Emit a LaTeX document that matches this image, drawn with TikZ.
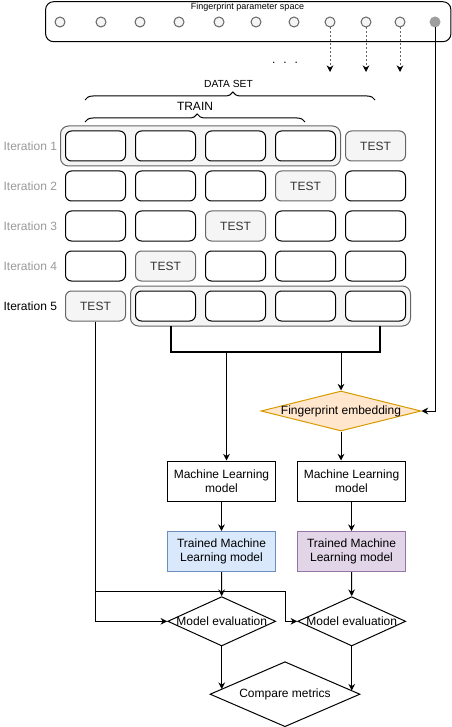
\documentclass[tikz,border=0pt]{standalone}
\usepackage{fontspec}
\setmainfont{Liberation Sans}
\usetikzlibrary{shapes.geometric,arrows.meta,decorations.pathreplacing,calc}
\definecolor{gfill}{HTML}{F5F5F5}
\definecolor{gstroke}{HTML}{666666}
\definecolor{ttext}{HTML}{333333}
\definecolor{lgray}{HTML}{999999}
\definecolor{dgray}{HTML}{9E9E9E}
\definecolor{ofill}{HTML}{FFE6CC}
\definecolor{ostroke}{HTML}{D79B00}
\definecolor{bfill}{HTML}{DAE8FC}
\definecolor{bstroke}{HTML}{6C8EBF}
\definecolor{pfill}{HTML}{E1D5E7}
\definecolor{pstroke}{HTML}{9673A6}
\begin{document}
\begin{tikzpicture}[x=0.75pt,y=-0.75pt,
  font=\fontsize{9}{10.8}\selectfont, line width=0.75pt,
  cell/.style={draw=black, fill=white, rounded corners=4.5pt, minimum width=45pt, minimum height=22.5pt, inner sep=0pt},
  testcell/.style={cell, draw=gstroke, fill=gfill, text=ttext},
  grp/.style={draw=gstroke, fill=gfill, rounded corners=6pt, inner sep=0pt, minimum width=210pt, minimum height=30pt},
  itl/.style={anchor=east, inner sep=0pt, text=lgray},
  mlbox/.style={draw=black, minimum width=81pt, minimum height=30pt, inner sep=0pt, align=center},
  circ/.style={circle, draw=gstroke, fill=gfill, minimum size=7.5pt, inner sep=0pt},
  arr/.style={-{Stealth[length=5pt,width=5pt]}},
  dotarr/.style={-{Stealth[length=5pt,width=5pt,color=black]}, draw=gstroke, dash pattern=on 1.5pt off 1.5pt},
  dmd/.style={diamond, draw=black, fill=white, inner sep=0pt},
  brc/.style={decorate, decoration={brace, amplitude=6pt, aspect=0.51}}
]
\useasboundingbox (0,0) rectangle (452,727);

% parameter space
\node[draw=black, rounded corners=6pt, minimum width=304pt, minimum height=30pt, inner sep=0pt] (space) at (248.25,21.7) {};
\node[font=\fontsize{6.75}{8}\selectfont, inner sep=0pt] (title) at (247.5,7.5) {Fingerprint parameter space};
\foreach \i/\x in {1/60,2/101,3/140,4/179,5/219,6/256,7/294,8/330,9/366,10/400} {
  \node[circ] (c\i) at (\x,22) {};
}
\node[circ, draw=dgray, fill=dgray] (c11) at (435,22) {};
\node[anchor=base, inner sep=0pt] (dots) at (285,63.5) {.\hspace{6pt}.\hspace{6pt}.};
\coordinate (d8) at (330,72);
\coordinate (d9) at (366,72);
\coordinate (d10) at (400,72);
\draw[dotarr] (c8.south) -- (d8);
\draw[dotarr] (c9.south) -- (d9);
\draw[dotarr] (c10.south) -- (d10);

% braces
\coordinate (dsL) at (85,100);
\coordinate (dsR) at (375,100);
\coordinate (trL) at (85,122);
\coordinate (trR) at (305,122);
\draw[brc] (dsL) -- (dsR);
\draw[brc] (trL) -- (trR);
\node[font=\fontsize{7.7}{9}\selectfont, inner sep=0pt] (ds) at (228.5,84) {DATA SET};
\node[inner sep=0pt] (train) at (195,106) {TRAIN};

% group boxes
\node[grp] (g1) at (200.5,146) {};
\node[grp] (g5) at (270.5,306) {};

% cells
\foreach \r/\y/\t in {1/146/5, 2/186/4, 3/226/3, 4/266/2, 5/306/1} {
  \foreach \c/\x in {1/95.5,2/165.5,3/235.5,4/305.5,5/375.5} {
    \ifnum\c=\t
      \node[testcell] (r\r-\c) at (\x,\y) {TEST};
    \else
      \node[cell] (r\r-\c) at (\x,\y) {};
    \fi
  }
}
\node[itl] (it1) at (57.5,146) {Iteration 1};
\node[itl] (it2) at (57.5,186) {Iteration 2};
\node[itl] (it3) at (57.5,226) {Iteration 3};
\node[itl] (it4) at (57.5,266) {Iteration 4};
\node[itl, text=black] (it5) at (57.5,306) {Iteration 5};

% bracket
\coordinate (bLt) at (171,326);
\coordinate (bLb) at (171,351.5);
\coordinate (bRb) at (380,351.5);
\coordinate (bRt) at (380,326);
\draw[line width=1.5pt] (bLt) -- (bLb) -- (bRb) -- (bRt);
\coordinate (bm1) at (226.5,351.5);
\coordinate (bm2) at (341,351.5);

% fingerprint embedding
\node[dmd, draw=ostroke, fill=ofill, minimum width=120pt, minimum height=30pt, label={center:Fingerprint embedding}] (fe) at (341,411) {};

% ML boxes
\node[mlbox] (ml1) at (221.5,481) {Machine Learning\\model};
\node[mlbox] (ml2) at (351.5,481) {Machine Learning\\model};
\node[mlbox, draw=bstroke, fill=bfill] (tr1) at (221.5,551.5) {Trained Machine\\Learning model};
\node[mlbox, draw=pstroke, fill=pfill] (tr2) at (351.5,551.5) {Trained Machine\\Learning model};

% model evaluation
\node[dmd, minimum width=81pt, minimum height=37pt, label={center:Model evaluation}] (me1) at (221.7,621.3) {};
\node[dmd, minimum width=81pt, minimum height=37pt, label={center:Model evaluation}] (me2) at (351.7,621.3) {};
\node[dmd, minimum width=112.5pt, minimum height=48.75pt, label={center:Compare metrics}] (cm) at (285,694.2) {};
\coordinate (cmL) at (221.7,689.1);
\coordinate (cmR) at (351.7,690.6);

% connectors
\draw[arr] (bm1) -- (bm1 |- ml1.north);
\draw[arr] (bm2) -- (fe.north);
\draw[arr] (c11.south) |- (fe.east);
\draw[arr] (fe.south) -- (fe.south |- ml2.north);
\draw[arr] (ml1.south) -- (tr1.north);
\draw[arr] (ml2.south) -- (tr2.north);
\draw[arr] (tr1.south) -- (me1.north);
\draw[arr] (tr2.south) -- (me2.north);
\draw[arr] (r5-1.south) |- (me1.west);
\coordinate (j1) at (95.5,591);
\coordinate (j2) at (285,591);
\draw[arr] (j1) -- (j2) |- (me2.west);
\draw[arr] (me1.south) -- (cmL);
\draw[arr] (me2.south) -- (cmR);
\end{tikzpicture}
\end{document}
